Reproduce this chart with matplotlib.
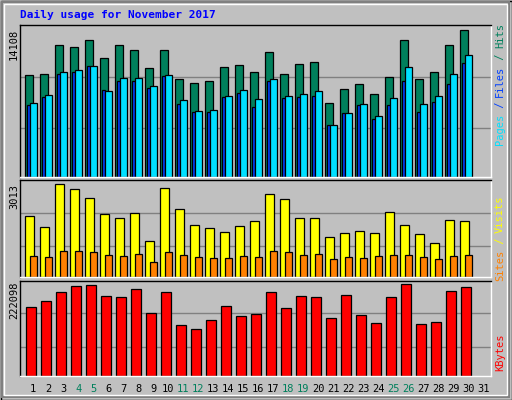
import matplotlib
matplotlib.use("Agg")
import matplotlib.pyplot as plt
from matplotlib.patches import Rectangle
import numpy as np

days = list(range(1, 32))
weekend = [4, 5, 11, 12, 18, 19, 25, 26]
hits = [9799, 9895, 12672, 12480, 13151, 11427, 12672, 12193, 10470, 12193,
        9416, 9033, 9225, 10565, 10757, 10087, 12002, 9895, 10853, 11044,
        7118, 8459, 8938, 7980, 9608, 13151, 9416, 10087, 12672, 14108]
files_cyan = [7118, 7884, 10023, 10278, 10661, 8267, 9512, 9512, 8746, 9799,
              7405, 6352, 6448, 7788, 8363, 7501, 9416, 7788, 7980, 8267,
              5011, 6161, 7022, 5873, 7597, 10565, 7022, 7788, 9895, 11715]
pages_blue = [6927, 7693, 9831, 10087, 10661, 8363, 9225, 9225, 8555, 9704,
              7022, 6256, 6256, 7693, 8076, 6735, 9225, 7597, 7693, 7788,
              5011, 6161, 6927, 5586, 6927, 9225, 6256, 7214, 8938, 10949]
visits = [1969, 1610, 3013, 2850, 2556, 2034, 1904, 2067, 1153, 2883,
          2197, 1675, 1577, 1447, 1643, 1806, 2687, 2524, 1904, 1904,
          1284, 1414, 1479, 1414, 2099, 1675, 1381, 1088, 1838, 1806]
sites = [696, 664, 827, 827, 794, 729, 696, 761, 500, 794,
         729, 664, 631, 631, 696, 664, 827, 794, 729, 761,
         598, 664, 631, 696, 729, 729, 664, 598, 696, 729]
kbytes = [166268, 180858, 202755, 217352, 219785, 192839, 190610, 210050, 151672, 202755,
          122478, 112750, 134643, 168700, 144379, 149244, 202755, 163837, 192839, 190610,
          139508, 195487, 146811, 127343, 190610, 222098, 124906, 129771, 205188, 214926]

BG = "#C0C0C0"
fig = plt.figure(figsize=(5.12, 4.0), dpi=100, facecolor=BG)
W, H = 512, 400

def box(x0, y0, x1, y1, **kw):
    fig.patches.append(Rectangle((x0 / W, 1 - y1 / H), (x1 - x0) / W, (y1 - y0) / H,
                                 transform=fig.transFigure, figure=fig, **kw))

box(0.5, 0.5, 511.5, 399.5, fill=False, edgecolor="black", lw=1)
box(2, 2, 509, 397, fill=False, edgecolor="#808080", lw=1.5)
box(3.5, 3.5, 507, 395, fill=False, edgecolor="white", lw=1)

fig.text(20 / W, 1 - 15 / H, "Daily usage for November 2017", color="#0000FF",
         family="DejaVu Sans Mono", weight="bold", fontsize=8, va="center")

XL = (0.247, 31.65)
x = np.arange(1, 31)

def make_ax(y0, y1):
    ax = fig.add_axes([20 / W, 1 - y1 / H, 471 / W, (y1 - y0) / H])
    ax.set_facecolor(BG)
    ax.set_xlim(*XL)
    ax.set_xticks([]); ax.set_yticks([])
    for s in ax.spines.values():
        s.set_color("black"); s.set_linewidth(1)
    ax.spines["right"].set_color("white"); ax.spines["bottom"].set_color("white")
    return ax

ekw = dict(edgecolor="black", linewidth=0.9, align="edge")

ax1 = make_ax(25, 177)
top1 = 14108 * 456 / 442
ax1.set_ylim(0, top1)
for f in (148 / 456, 301 / 456):
    ax1.axhline(top1 * f, color="#808080", lw=1, zorder=0)
ax1.bar(x - 0.40, hits, width=0.49, color="#00805C", **ekw)
ax1.bar(x - 0.27, pages_blue, width=0.18, color="#0040FF", **ekw)
ax1.bar(x - 0.11, files_cyan, width=0.47, color="#00E0FF", **ekw)

ax2 = make_ax(180, 277)
top2 = 3013 * 289 / 277
ax2.set_ylim(0, top2)
for f in (91 / 289, 190 / 289):
    ax2.axhline(top2 * f, color="#808080", lw=1, zorder=0)
ax2.bar(x - 0.40, visits, width=0.56, color="#FFFF00", **ekw)
ax2.bar(x - 0.11, sites, width=0.47, color="#FF8000", **ekw)

ax3 = make_ax(281, 376)
top3 = 222098 * 284 / 274
ax3.set_ylim(0, top3)
for f in (88 / 284, 187 / 284):
    ax3.axhline(top3 * f, color="#808080", lw=1, zorder=0)
ax3.bar(x - 0.33, kbytes, width=0.66, color="#FF0000", **ekw)

mono = "DejaVu Sans Mono"
for d in days:
    xp = 20 + (d - XL[0]) / (XL[1] - XL[0]) * 471 + 2
    fig.text(xp / W, 1 - 389 / H, str(d), ha="center", va="center", family=mono,
             fontsize=7.5, color="#00805C" if d in weekend else "black")

fig.text(14 / W, 1 - 44 / H, "14108", rotation=90, ha="center", va="center", family=mono, fontsize=7.5)
fig.text(14 / W, 1 - 197 / H, "3013", rotation=90, ha="center", va="center", family=mono, fontsize=7.5)
fig.text(14 / W, 1 - 300 / H, "222098", rotation=90, ha="center", va="center", family=mono, fontsize=7.5)

def rlabel(parts, ycenter):
    total = sum(len(p[0]) for p in parts)
    ch = 6.0
    y = ycenter + total * ch / 2
    for t, c in parts:
        n = len(t)
        fig.text(500 / W, 1 - (y - n * ch / 2) / H, t, rotation=90, ha="center", va="center",
                 family=mono, fontsize=7.5, color=c)
        y -= n * ch

rlabel([("Pages", "#00E0FF"), (" / ", "#0040FF"), ("Files", "#0040FF"), (" / ", "#00805C"), ("Hits", "#00805C")], 84)
rlabel([("Sites", "#FF8000"), (" / ", "#FFFF00"), ("Visits", "#FFFF00")], 238)
rlabel([("KBytes", "#FF0000")], 352)

fig.savefig("out.png", dpi=100, facecolor=BG)
